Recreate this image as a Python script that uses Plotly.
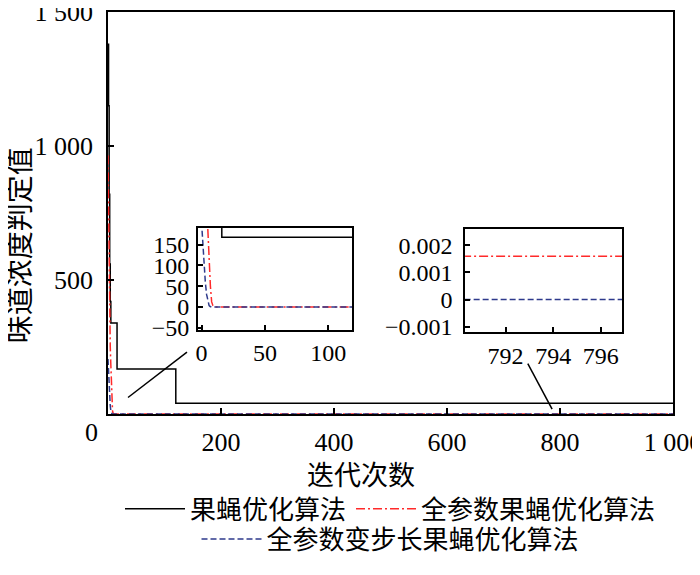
import plotly.graph_objects as go

# 迭代次数 / 味道浓度判定值
foa_iter = [0, 1, 2, 3, 4, 5, 16, 120, 1000]
foa_val = [1380, 1150, 820, 560, 420, 340, 168, 40, 40]

afoa_iter = [0, 1, 2, 3, 4, 5, 6, 7, 8, 9, 10, 11, 1000]
afoa_val = [965, 720, 500, 340, 250, 185, 110, 50, 12, 3, 0.5, 0.0016, 0.0016]

vfoa_iter = [0, 1, 2, 3, 4, 5, 6, 7, 8, 1000]
vfoa_val = [205, 150, 105, 60, 30, 12, 3, 0.5, 0, 0]

names = ["果蝇优化算法", "全参数果蝇优化算法", "全参数变步长果蝇优化算法"]

main_xticks = [200, 400, 600, 800, 1000]
main_xtext = ["200", "400", "600", "800", "1 000"]
main_yticks = [500, 1000, 1500]
main_ytext = ["500", "1 000", "1 500"]

in1_xticks = [0, 50, 100]
in1_yticks = [-50, 0, 50, 100, 150]
in1_ytext = ["−50", "0", "50", "100", "150"]

in2_xticks = [792, 794, 796]
in2_yticks = [-0.001, 0, 0.001, 0.002]
in2_ytext = ["−0.001", "0", "0.001", "0.002"]

FONT = "Liberation Serif, Times New Roman, serif"
CJK = "Noto Sans CJK SC, Liberation Serif"

estilos = [
    dict(color="black", width=1.5, dash="solid"),
    dict(color="#ff2a2a", width=1.5, dash="9px,3px,2px,3px"),
    dict(color="#2e3a8c", width=1.5, dash="6px,3px"),
]
series = [(foa_iter, foa_val, "hv"), (afoa_iter, afoa_val, "linear"), (vfoa_iter, vfoa_val, "linear")]

fig = go.Figure()

# eixo principal
for i, (xs, ys, shape) in enumerate(series):
    fig.add_trace(go.Scatter(
        x=xs, y=ys, mode="lines", name=names[i], line=estilos[i], line_shape=shape,
        legend="legend" if i < 2 else "legend2", xaxis="x", yaxis="y"
    ))

# insets
for ax in ["2", "3"]:
    for i, (xs, ys, shape) in enumerate(series):
        fig.add_trace(go.Scatter(
            x=xs, y=ys, mode="lines", line=estilos[i], line_shape=shape,
            showlegend=False, xaxis="x" + ax, yaxis="y" + ax, hoverinfo="skip"
        ))

eixo = dict(
    showline=True, linecolor="black", linewidth=1.5, mirror=True,
    ticks="inside", ticklen=6, tickcolor="black", tickwidth=1.5,
    showgrid=False, zeroline=False, automargin=False, ticklabeloverflow="allow",
    tickfont=dict(family=FONT, size=26, color="black"),
)
fonte_inset = dict(family=FONT, size=24, color="black")

# a página tem 8 px de margem no body: figura 684x559 cabe na janela 700x575
fig.update_layout(
    width=684, height=559,
    margin=dict(l=100, r=19, t=4, b=140),
    plot_bgcolor="white", paper_bgcolor="white",
    font=dict(family=FONT, size=26, color="black"),
    xaxis=dict(eixo, range=[0, 1000], tickvals=main_xticks, ticktext=main_xtext,
               ticklabelstandoff=4),
    yaxis=dict(eixo, range=[0, 1500], tickvals=main_yticks, ticktext=main_ytext,
               ticklabelstandoff=8),
    xaxis2=dict(eixo, domain=[0.159, 0.432], anchor="y2", range=[-2.9, 118.7],
                tickvals=in1_xticks, ticklen=5, ticklabelstandoff=1, tickfont=fonte_inset),
    yaxis2=dict(eixo, domain=[0.2096, 0.4627], anchor="x2", range=[-55, 190],
                tickvals=in1_yticks, ticktext=in1_ytext, ticklen=5, ticklabelstandoff=2,
                tickfont=fonte_inset),
    xaxis3=dict(eixo, domain=[0.632, 0.910], anchor="y3", range=[790.3, 796.9],
                tickvals=in2_xticks, ticklen=5, ticklabelstandoff=2, tickfont=fonte_inset),
    yaxis3=dict(eixo, domain=[0.2048, 0.4602], anchor="x3", range=[-0.00118, 0.0026],
                tickvals=in2_yticks, ticktext=in2_ytext, ticklen=5, ticklabelstandoff=6,
                tickfont=fonte_inset),
    legend=dict(orientation="h", x=0.5, xanchor="center", y=-0.236, yanchor="middle",
                font=dict(family=CJK, size=26, color="black"), itemwidth=60,
                bgcolor="rgba(0,0,0,0)"),
    legend2=dict(orientation="h", x=0.5, xanchor="center", y=-0.311, yanchor="middle",
                 font=dict(family=CJK, size=26, color="black"), itemwidth=60,
                 bgcolor="rgba(0,0,0,0)"),
    showlegend=True,
)

# linhas de ligação dos insets
fig.add_shape(type="line", xref="paper", yref="paper", x0=0.0354, y0=0.041, x1=0.1398, y1=0.154,
              line=dict(color="black", width=1.5))
fig.add_shape(type="line", xref="paper", yref="paper", x0=0.743, y0=0.1253, x1=0.786, y1=0.012,
              line=dict(color="black", width=1.5))

# títulos dos eixos e o "0" da origem
fig.add_annotation(text="迭代次数", xref="paper", yref="paper", x=0.448, y=-0.147,
                   xanchor="center", yanchor="middle",
                   showarrow=False, font=dict(family=CJK, size=27, color="black"))
fig.add_annotation(text="味道浓度判定值", xref="paper", yref="paper", x=-0.159, y=0.42,
                   xanchor="center", yanchor="middle",
                   textangle=-90, showarrow=False, font=dict(family=CJK, size=28, color="black"))
fig.add_annotation(text="0", xref="paper", yref="paper", x=-0.030, y=-0.046,
                   xanchor="center", yanchor="middle",
                   showarrow=False, font=dict(family=FONT, size=26, color="black"))

fig.write_html("out.html")
